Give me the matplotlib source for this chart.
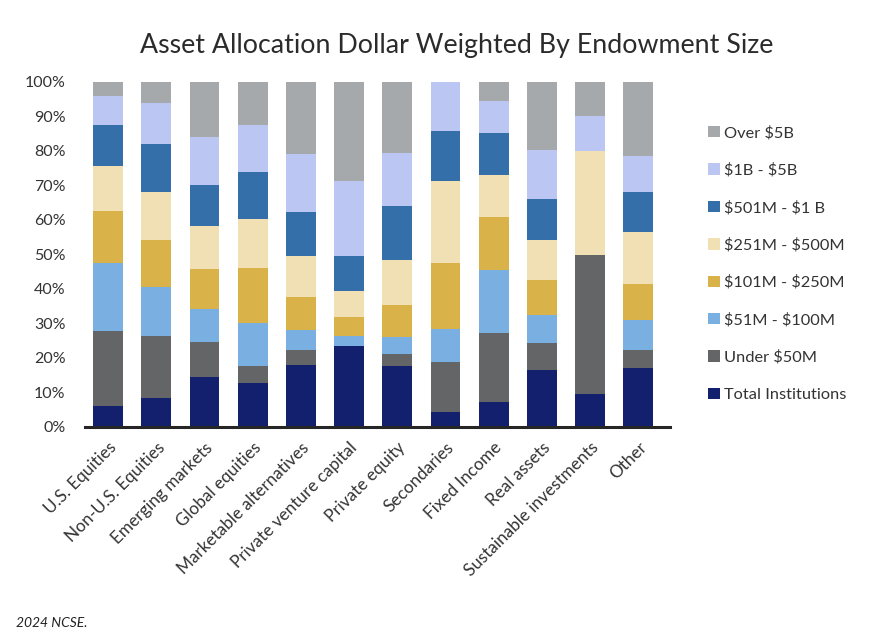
import matplotlib
matplotlib.use("Agg")
import matplotlib.pyplot as plt
from matplotlib.patches import Patch
import numpy as np

plt.rcParams['font.family'] = ['Lato', 'DejaVu Sans']
plt.rcParams['text.parse_math'] = False

categories = ["U.S. Equities", "Non-U.S. Equities", "Emerging markets", "Global equities",
              "Marketable alternatives", "Private venture capital", "Private equity",
              "Secondaries", "Fixed Income", "Real assets", "Sustainable investments", "Other"]

series_names = ["Total Institutions", "Under $50M", "$51M - $100M", "$101M - $250M",
                "$251M - $500M", "$501M - $1 B", "$1B - $5B", "Over $5B"]

total_institutions = [6.2, 8.5, 14.6, 12.8, 18.1, 23.6, 17.8, 4.4, 7.3, 16.6, 9.7, 17.2]
under_50m          = [21.7, 17.9, 10.1, 5.0, 4.3, 0.0, 3.4, 14.5, 20.0, 7.8, 40.2, 5.2]
m51_100            = [19.7, 14.1, 9.6, 12.4, 5.8, 2.8, 5.0, 9.6, 18.3, 8.1, 0.0, 8.7]
m101_250           = [15.0, 13.7, 11.5, 15.9, 9.5, 5.6, 9.2, 19.1, 15.3, 10.2, 0.0, 10.4]
m251_500           = [13.1, 13.9, 12.5, 14.2, 11.9, 7.5, 13.1, 23.7, 12.2, 11.5, 30.1, 15.1]
m501_1b            = [11.8, 13.9, 11.9, 13.6, 12.8, 10.1, 15.6, 14.5, 12.1, 11.9, 0.0, 11.5]
b1_5               = [8.4, 11.9, 13.9, 13.6, 16.8, 21.7, 15.3, 14.2, 9.3, 14.2, 10.2, 10.5]
over_5b            = [4.1, 6.1, 15.9, 12.5, 20.8, 28.7, 20.6, 0.0, 5.5, 19.7, 9.8, 21.4]

series_values = [total_institutions, under_50m, m51_100, m101_250, m251_500, m501_1b, b1_5, over_5b]
colors = ["#13206E", "#646567", "#7AAFE2", "#D9B24A", "#F1E0B3", "#356FA9", "#BBC6F3", "#A5A9AB"]

y_ticks = [0, 10, 20, 30, 40, 50, 60, 70, 80, 90, 100]
y_tick_labels = [f"{t}%" for t in y_ticks]

fig = plt.figure(figsize=(8.96, 6.44), dpi=100)
ax = fig.add_axes([0.0949, 0.337, 0.653, 0.5357])

x = np.arange(len(categories))
bottom = np.zeros(len(categories))
for vals, col, name in zip(series_values, colors, series_names):
    v = np.array(vals)
    ax.bar(x, v, bottom=bottom, width=0.62, color=col, label=name, linewidth=0)
    bottom += v

ax.set_xlim(-0.48, 11.66)
ax.set_ylim(0, 100)
ax.set_yticks(y_ticks)
ax.set_yticklabels(y_tick_labels, fontsize=11.5, color="#333333")
ax.set_xticks(x)
ax.set_xticklabels(categories, rotation=45, ha="right", rotation_mode="anchor",
                   fontsize=12.3, color="#333333")
ax.tick_params(axis="both", length=0)
ax.tick_params(axis="y", pad=14)
ax.tick_params(axis="x", pad=9)
for s in ["top", "right", "left"]:
    ax.spines[s].set_visible(False)
ax.spines["bottom"].set_color("#262626")
ax.spines["bottom"].set_linewidth(2.2)

handles = [Patch(facecolor=c, edgecolor="none") for c in colors][::-1]
labels = series_names[::-1]
leg = fig.legend(handles, labels, loc="upper left", bbox_to_anchor=(0.783, 0.815),
                 frameon=False, fontsize=11.8, handlelength=0.7, handleheight=0.7,
                 handletextpad=0.25, labelspacing=1.4, borderaxespad=0)
for t in leg.get_texts():
    t.set_color("#333333")

fig.text(0.51, 0.93, "Asset Allocation Dollar Weighted By Endowment Size",
         ha="center", va="center", fontsize=19.3, color="#2b2b2b")
fig.text(0.018, 0.033, "2024 NCSE.", ha="left", va="center", fontsize=10,
         style="italic", color="#222222")

fig.savefig("out.png", dpi=100)
